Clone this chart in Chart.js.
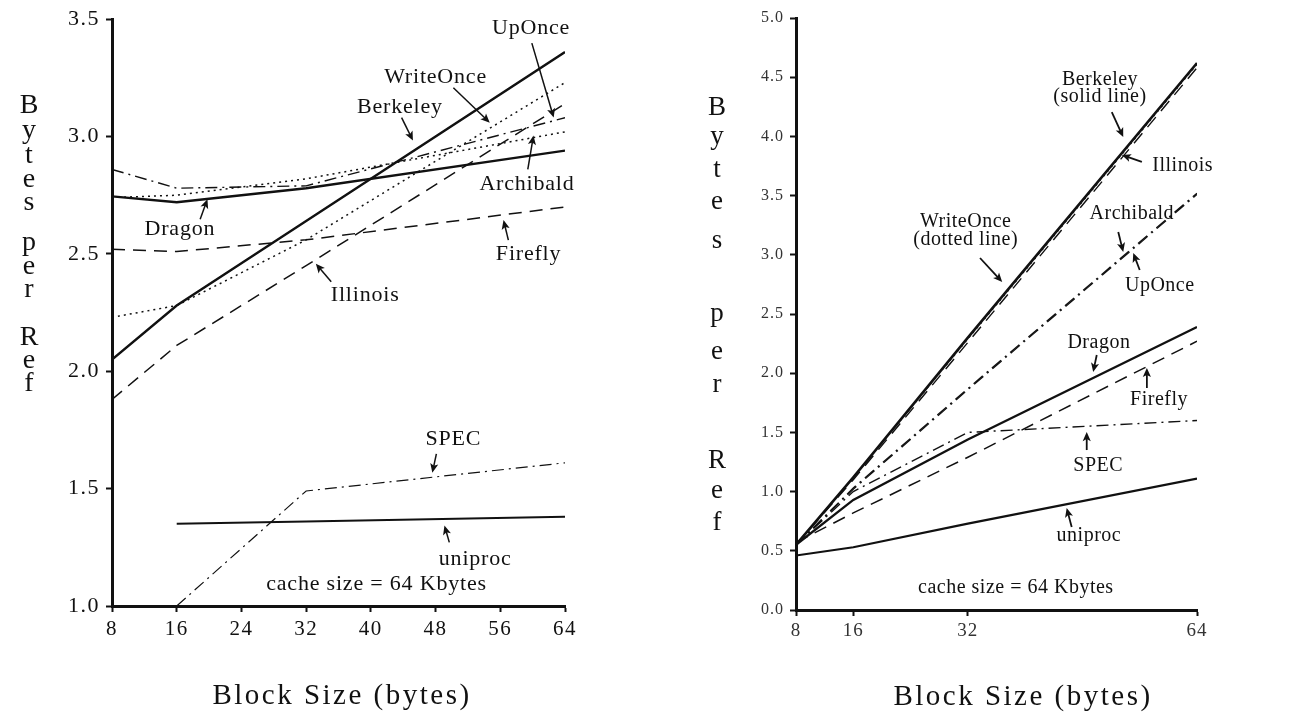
<!DOCTYPE html>
<html>
<head>
<meta charset="utf-8">
<title>Bytes per Ref vs Block Size</title>
<script src="https://cdn.jsdelivr.net/npm/chart.js@4.4.1/dist/chart.umd.min.js"></script>
<style>
  html, body { margin: 0; padding: 0; background: #fff; }
  #wrap { position: relative; width: 1290px; height: 716px; }
  canvas { position: absolute; top: 0; }
  #left { left: 0; }
  #right { left: 645px; }
</style>
</head>
<body>
<div id="wrap">
  <canvas id="left" width="645" height="716"></canvas>
  <canvas id="right" width="645" height="716"></canvas>
</div>
<script>
// block sizes measured (bytes)
const blockSizes = [8, 16, 32, 64];

// left panel, y from 1.0 to 3.5
const leftBerkeley  = [2.05, 2.28, 2.64, 3.36];
const leftWriteOnce = [2.23, 2.28, 2.56, 3.23];
const leftUpOnce    = [2.86, 2.78, 2.79, 3.08];
const leftArchibald = [2.74, 2.75, 2.82, 3.02];
const leftDragon    = [2.745, 2.72, 2.78, 2.94];
const leftFirefly   = [2.52, 2.51, 2.56, 2.70];
const leftIllinois  = [1.88, 2.11, 2.45, 3.14];
const leftSpec      = [null, 1.00, 1.49, 1.61];
const leftUniproc   = [null, 1.35, 1.36, 1.38];

// right panel, y from 0.0 to 5.0
const rightBerkeley  = [0.55, 1.12, 2.30, 4.62];
const rightWriteOnce = [0.55, 1.12, 2.29, 4.61];
const rightIllinois  = [0.55, 1.10, 2.26, 4.58];
const rightArchibald = [0.55, 1.03, 1.87, 3.52];
const rightUpOnce    = [0.55, 1.02, 1.86, 3.51];
const rightDragon    = [0.55, 0.93, 1.44, 2.39];
const rightFirefly   = [0.57, 0.82, 1.29, 2.27];
const rightSpec      = [0.55, 1.00, 1.50, 1.60];
const rightUniproc   = [0.46, 0.53, 0.73, 1.11];

// tick values
const leftXTicks  = [8, 16, 24, 32, 40, 48, 56, 64];
const rightXTicks = [8, 16, 32, 64];
const leftYRange  = [1.0, 3.5];
const rightYRange = [0.0, 5.0];

const SERIF = '"Liberation Serif", "DejaVu Serif", "Times New Roman", serif';
Chart.defaults.font.family = SERIF;
Chart.defaults.color = '#111';

// dash patterns for the four line kinds
const DASH = {
  solid: [],
  dashed: [13, 8],
  dotted: [2, 4],
  dashdot: [12, 5, 2, 5]
};

function series(label, values, kind, width) {
  return {
    label,
    data: blockSizes.map((b, i) => ({ x: b, y: values[i] })),
    borderColor: '#111',
    borderWidth: width,
    borderDash: DASH[kind],
    pointRadius: 0,
    tension: 0,
    fill: false,
    spanGaps: false
  };
}

// writes the stacked y title, x caption, curve labels and pointer arrows
const figureText = {
  id: 'figureText',
  beforeDraw(chart, args, o) {
    // old typeset look: slightly spread tick numbers
    chart.ctx.letterSpacing = o.tickSpacing;
  },
  afterDraw(chart, args, o) {
    const { ctx } = chart;
    const xs = chart.scales.x, ys = chart.scales.y;
    ctx.save();
    ctx.fillStyle = o.color;
    ctx.strokeStyle = o.color;
    ctx.textAlign = 'center';
    ctx.textBaseline = 'middle';

    ctx.letterSpacing = '0px';
    ctx.font = `${o.stackSize}px ${SERIF}`;
    o.stack.letters.forEach((ch, i) => ctx.fillText(ch, o.stack.x, o.stack.y[i]));

    ctx.letterSpacing = o.captionSpacing;
    ctx.font = `${o.captionSize}px ${SERIF}`;
    ctx.fillText(o.caption.text, o.caption.x, o.caption.y);

    ctx.letterSpacing = o.labelSpacing;
    ctx.font = `${o.labelSize}px ${SERIF}`;
    o.labels.forEach(l => ctx.fillText(l.text, xs.getPixelForValue(l.x), ys.getPixelForValue(l.y)));

    ctx.lineWidth = o.arrowWidth;
    o.arrows.forEach(a => {
      const x0 = xs.getPixelForValue(a.from[0]), y0 = ys.getPixelForValue(a.from[1]);
      const x1 = xs.getPixelForValue(a.to[0]), y1 = ys.getPixelForValue(a.to[1]);
      const ang = Math.atan2(y1 - y0, x1 - x0), h = o.headSize;
      ctx.beginPath();
      ctx.moveTo(x0, y0);
      ctx.lineTo(x1 - 0.6 * h * Math.cos(ang), y1 - 0.6 * h * Math.sin(ang));
      ctx.stroke();
      ctx.beginPath();
      ctx.moveTo(x1, y1);
      ctx.lineTo(x1 - h * Math.cos(ang - 0.42), y1 - h * Math.sin(ang - 0.42));
      ctx.lineTo(x1 - 0.7 * h * Math.cos(ang), y1 - 0.7 * h * Math.sin(ang));
      ctx.lineTo(x1 - h * Math.cos(ang + 0.42), y1 - h * Math.sin(ang + 0.42));
      ctx.closePath();
      ctx.fill();
    });
    ctx.restore();
  }
};

function makeScales(p) {
  return {
    x: {
      type: 'linear',
      min: 8,
      max: 64,
      afterBuildTicks: s => { s.ticks = p.xTicks.map(v => ({ value: v })); },
      afterFit: s => { s.height = p.xHeight; },
      border: { display: true, color: '#111', width: 3 },
      grid: { drawOnChartArea: false, drawTicks: true, tickLength: 6, tickWidth: 2, tickColor: '#111' },
      ticks: { font: { size: p.xTickSize }, color: p.tickColor, padding: p.xPad, maxRotation: 0 }
    },
    y: {
      type: 'linear',
      min: p.yRange[0],
      max: p.yRange[1],
      afterFit: s => { s.width = p.yWidth; },
      border: { display: true, color: '#111', width: 3 },
      grid: { drawOnChartArea: false, drawTicks: true, tickLength: 6, tickWidth: 2, tickColor: '#111' },
      ticks: {
        stepSize: 0.5,
        font: { size: p.yTickSize },
        color: p.tickColor,
        padding: p.yPad,
        callback: v => p.fmt(v)
      }
    }
  };
}

const TITLE_LETTERS = ['B', 'y', 't', 'e', 's', 'p', 'e', 'r', 'R', 'e', 'f'];

// ---------- left panel ----------
new Chart(document.getElementById('left'), {
  type: 'line',
  data: {
    datasets: [
      series('Berkeley', leftBerkeley, 'solid', 2.4),
      series('WriteOnce', leftWriteOnce, 'dotted', 1.5),
      series('UpOnce', leftUpOnce, 'dashdot', 1.4),
      series('Archibald', leftArchibald, 'dotted', 1.5),
      series('Dragon', leftDragon, 'solid', 2.4),
      series('Firefly', leftFirefly, 'dashed', 1.5),
      series('Illinois', leftIllinois, 'dashed', 1.5),
      series('SPEC', leftSpec, 'dashdot', 1.2),
      series('uniproc', leftUniproc, 'solid', 2)
    ]
  },
  options: {
    responsive: false,
    animation: false,
    layout: { padding: { left: 0, right: 80, top: 16, bottom: 0 } },
    scales: makeScales({
      xTicks: leftXTicks, yRange: leftYRange, xHeight: 110, yWidth: 112,
      xTickSize: 21, yTickSize: 22, xPad: 5, yPad: 6, tickColor: '#111',
      fmt: v => v.toFixed(1)
    }),
    plugins: {
      legend: { display: false },
      tooltip: { enabled: false },
      figureText: {
        color: '#111',
        stackSize: 28, captionSize: 29, labelSize: 22,
        tickSpacing: '1.5px', captionSpacing: '2.5px', labelSpacing: '0.8px',
        arrowWidth: 1.5, headSize: 10,
        stack: { letters: TITLE_LETTERS, x: 29,
                 y: [106, 131, 156, 180, 203, 243, 267, 290, 338, 361, 384] },
        caption: { text: 'Block Size (bytes)', x: 342, y: 696 },
        labels: [
          { text: 'UpOnce', x: 59.8, y: 3.462 },
          { text: 'WriteOnce', x: 48.0, y: 3.254 },
          { text: 'Berkeley', x: 43.6, y: 3.127 },
          { text: 'Archibald', x: 59.3, y: 2.797 },
          { text: 'Dragon', x: 16.4, y: 2.606 },
          { text: 'Firefly', x: 59.5, y: 2.50 },
          { text: 'Illinois', x: 39.3, y: 2.326 },
          { text: 'SPEC', x: 50.2, y: 1.712 },
          { text: 'uniproc', x: 52.9, y: 1.20 },
          { text: 'cache size = 64 Kbytes', x: 40.7, y: 1.093 }
        ],
        arrows: [
          { from: [59.9, 3.398], to: [62.6, 3.081] },
          { from: [50.2, 3.208], to: [54.7, 3.059] },
          { from: [43.8, 3.081], to: [45.2, 2.983] },
          { from: [59.4, 2.860], to: [60.1, 3.004] },
          { from: [18.9, 2.648], to: [19.8, 2.733] },
          { from: [57.0, 2.559], to: [56.4, 2.644] },
          { from: [35.1, 2.381], to: [33.2, 2.458] },
          { from: [48.1, 1.648], to: [47.6, 1.568] },
          { from: [49.7, 1.271], to: [49.1, 1.343] }
        ]
      }
    }
  },
  plugins: [figureText]
});

// ---------- right panel ----------
new Chart(document.getElementById('right'), {
  type: 'line',
  data: {
    datasets: [
      series('Berkeley', rightBerkeley, 'solid', 2.6),
      series('WriteOnce', rightWriteOnce, 'dotted', 1.4),
      series('Illinois', rightIllinois, 'dashed', 1.4),
      series('Archibald', rightArchibald, 'dashdot', 1.4),
      series('UpOnce', rightUpOnce, 'dashdot', 1.2),
      series('Dragon', rightDragon, 'solid', 2.4),
      series('Firefly', rightFirefly, 'dashed', 1.5),
      series('SPEC', rightSpec, 'dashdot', 1.4),
      series('uniproc', rightUniproc, 'solid', 2.2)
    ]
  },
  options: {
    responsive: false,
    animation: false,
    layout: { padding: { left: 0, right: 93, top: 18, bottom: 0 } },
    scales: makeScales({
      xTicks: rightXTicks, yRange: rightYRange, xHeight: 106, yWidth: 151,
      xTickSize: 19, yTickSize: 16, xPad: 4, yPad: 6, tickColor: '#333',
      fmt: v => v.toFixed(1)
    }),
    plugins: {
      legend: { display: false },
      tooltip: { enabled: false },
      figureText: {
        color: '#111',
        stackSize: 27, captionSize: 29, labelSize: 20,
        tickSpacing: '1px', captionSpacing: '2.5px', labelSpacing: '0.5px',
        arrowWidth: 1.8, headSize: 10,
        stack: { letters: TITLE_LETTERS, x: 72,
                 y: [108, 137, 170, 202, 241, 314, 352, 385, 461, 491, 523] },
        caption: { text: 'Block Size (bytes)', x: 378, y: 697 },
        labels: [
          { text: 'Berkeley', x: 50.45, y: 4.476 },
          { text: '(solid line)', x: 50.45, y: 4.333 },
          { text: 'Illinois', x: 62.0, y: 3.75 },
          { text: 'WriteOnce', x: 31.7, y: 3.277 },
          { text: '(dotted line)', x: 31.7, y: 3.125 },
          { text: 'Archibald', x: 54.9, y: 3.345 },
          { text: 'UpOnce', x: 58.8, y: 2.736 },
          { text: 'Dragon', x: 50.3, y: 2.255 },
          { text: 'Firefly', x: 58.7, y: 1.774 },
          { text: 'SPEC', x: 50.2, y: 1.216 },
          { text: 'uniproc', x: 48.9, y: 0.625 },
          { text: 'cache size = 64 Kbytes', x: 38.7, y: 0.186 }
        ],
        arrows: [
          { from: [52.1, 4.206], to: [53.7, 3.995] },
          { from: [56.3, 3.784], to: [53.5, 3.843] },
          { from: [33.7, 2.973], to: [36.8, 2.770] },
          { from: [53.0, 3.193], to: [53.7, 3.024] },
          { from: [56.0, 2.872], to: [55.1, 3.015] },
          { from: [50.0, 2.154], to: [49.5, 2.010] },
          { from: [57.0, 1.875], to: [57.0, 2.044] },
          { from: [48.6, 1.351], to: [48.6, 1.503] },
          { from: [46.5, 0.701], to: [45.8, 0.861] }
        ]
      }
    }
  },
  plugins: [figureText]
});
</script>
</body>
</html>
